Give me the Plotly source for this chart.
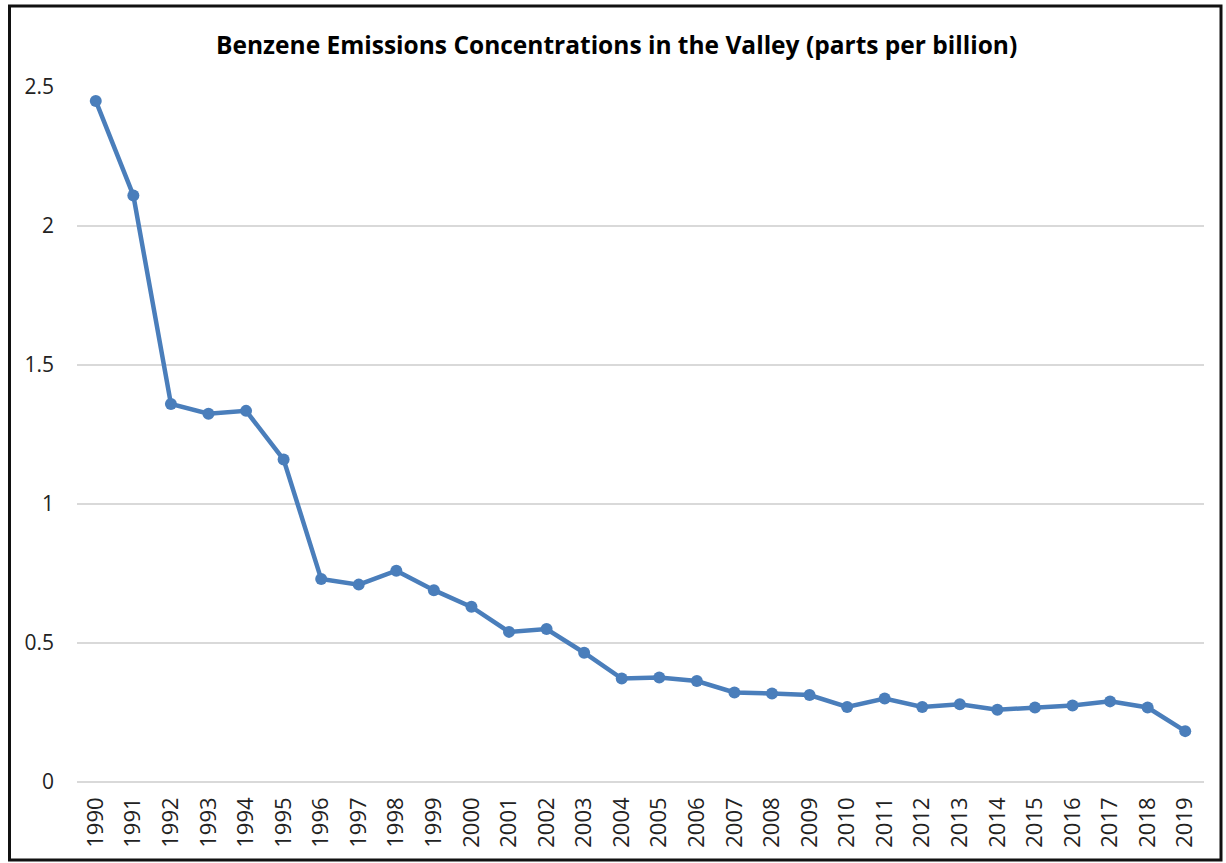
import plotly.graph_objects as go

years = [str(y) for y in range(1990, 2020)]
benzene_ppb = [2.45, 2.11, 1.36, 1.325, 1.335, 1.16, 0.73, 0.71, 0.76, 0.69,
               0.63, 0.54, 0.55, 0.465, 0.372, 0.376, 0.363, 0.322, 0.318, 0.313,
               0.27, 0.3, 0.27, 0.28, 0.26, 0.268, 0.275, 0.29, 0.268, 0.183]
y_ticks = [0, 0.5, 1, 1.5, 2, 2.5]
y_tick_text = ["0", "0.5", "1", "1.5", "2", "2.5"]

W, H = 1226, 863
ml, mr, mt, mb = 77, 22, 87, 81
pw, ph = W - ml - mr, H - mt - mb

fig = go.Figure()
fig.add_trace(go.Scatter(
    x=years, y=benzene_ppb, mode="lines+markers",
    line=dict(color="#4A7EBB", width=4.5),
    marker=dict(color="#4A7EBB", size=12),
    cliponaxis=False, showlegend=False,
))

def px_to_paper_x(px):
    return (px - ml) / pw

def px_to_paper_y(py):
    return (H - mb - py) / ph

fig.update_layout(
    width=W, height=H,
    margin=dict(l=ml, r=mr, t=mt, b=mb),
    paper_bgcolor="white", plot_bgcolor="white",
    title=dict(text="<b>Benzene Emissions Concentrations in the Valley (parts per billion)</b>",
               x=0.503, xanchor="center", y=1 - 45 / H, yanchor="middle",
               font=dict(family="Open Sans, Liberation Sans, sans-serif", size=24.5, color="#000000")),
    font=dict(family="Open Sans, Liberation Sans, sans-serif", color="#222222"),
    xaxis=dict(type="category", tickangle=-90, tickfont=dict(size=22, color="#222222"),
               showgrid=False, showline=False, ticks="", range=[-0.5, 29.5], ticklabelstandoff=10),
    yaxis=dict(range=[0, 2.5], tickvals=y_ticks, ticktext=y_tick_text,
               tickfont=dict(size=21, color="#222222"),
               showgrid=True, gridcolor="#D9D9D9", gridwidth=1.5, zeroline=True,
               zerolinecolor="#D9D9D9", zerolinewidth=1.5, showline=False, ticks="",
               ticklabelstandoff=22),
    shapes=[dict(type="rect", xref="paper", yref="paper",
                 x0=px_to_paper_x(9.5), x1=px_to_paper_x(1221), y0=px_to_paper_y(860), y1=px_to_paper_y(6),
                 line=dict(color="#111111", width=3), fillcolor="rgba(0,0,0,0)", layer="above")],
)

fig.write_html("out.html", config={"displayModeBar": False},
               post_script="document.body.style.margin='0';document.body.style.overflow='hidden';")
